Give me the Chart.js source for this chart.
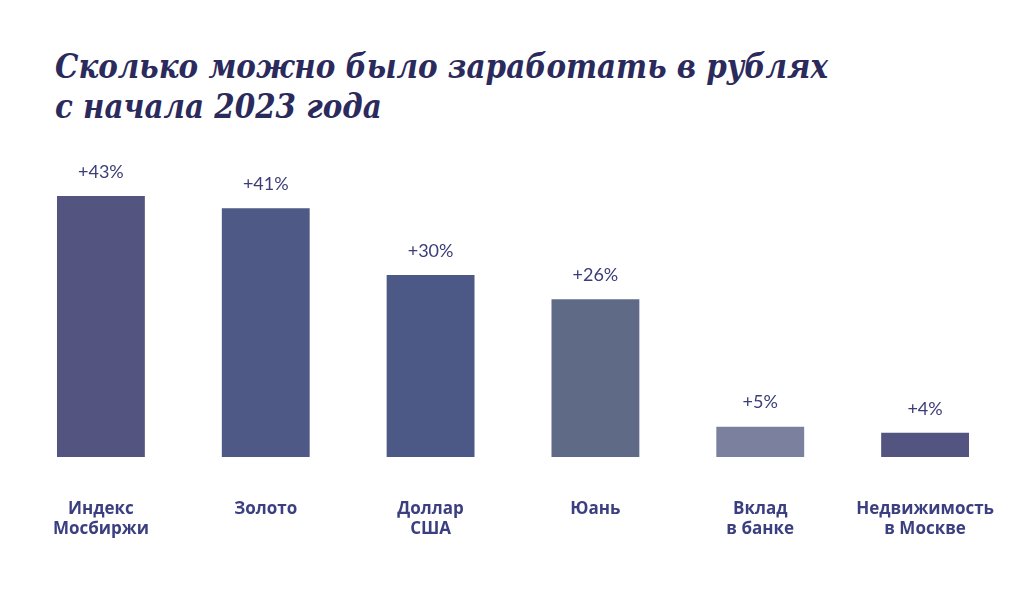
<!DOCTYPE html>
<html>
<head>
<meta charset="utf-8">
<script src="https://cdn.jsdelivr.net/npm/chart.js@4.4.0/dist/chart.umd.min.js"></script>
<style>
  html, body { margin: 0; padding: 0; background: #fff; }
  #wrap { position: relative; width: 1024px; height: 595px; }
  #title {
    position: absolute; left: 55px; top: 46px; margin: 0; white-space: nowrap;
    font-family: "DejaVu Serif Condensed", "DejaVu Serif", serif; font-style: italic; font-weight: bold;
    font-size: 34px; line-height: 40px; color: #2b2a5c;
    transform: scaleX(0.96); transform-origin: left top;
  }
  canvas { position: absolute; left: 0; top: 0; }
</style>
</head>
<body>
<div id="wrap">
  <h1 id="title">Сколько можно было заработать в рублях<br>с начала 2023 года</h1>
  <canvas id="returnsChart" width="1024" height="595"></canvas>
</div>
<script>
// Доходность активов с начала 2023 года, %
const categories = [['Индекс', 'Мосбиржи'], 'Золото', ['Доллар', 'США'], 'Юань', ['Вклад', 'в банке'], ['Недвижимость', 'в Москве']];
const returns = [43, 41, 30, 26, 5, 4];
const barColors = ['#535480', '#4e5985', '#4c5886', '#5f6b86', '#7b809f', '#535580'];

// подписи значений над столбцами
const valueLabels = {
  id: 'valueLabels',
  afterDatasetsDraw(chart) {
    const ctx = chart.ctx;
    const meta = chart.getDatasetMeta(0);
    ctx.save();
    ctx.font = '18px Lato';
    ctx.fillStyle = '#3b3d78';
    ctx.textAlign = 'center';
    ctx.textBaseline = 'middle';
    meta.data.forEach((bar, i) => {
      ctx.fillText('+' + returns[i] + '%', bar.x, bar.y - 24);
    });
    ctx.restore();
  }
};

const ctx = document.getElementById('returnsChart').getContext('2d');
new Chart(ctx, {
  type: 'bar',
  data: {
    labels: categories,
    datasets: [{
      data: returns,
      backgroundColor: barColors,
      barPercentage: 0.533,
      categoryPercentage: 1,
    }]
  },
  options: {
    responsive: false,
    animation: false,
    layout: { padding: { top: 153.5, left: 18.5, right: 16.5, bottom: 0 } },
    plugins: {
      legend: { display: false },
      tooltip: { enabled: false }
    },
    scales: {
      y: { display: false, min: 0, max: 50 },
      x: {
        grid: { display: false },
        border: { display: false },
        afterFit(scale) {
          scale.height = 138;
          scale.paddingLeft = 0;
          scale.paddingRight = 0;
        },
        ticks: {
          padding: 34,
          color: '#3b3f80',
          font: { family: 'Open Sans', weight: 'bold', size: 17, lineHeight: 1.18 },
          maxRotation: 0,
          autoSkip: false
        }
      }
    }
  },
  plugins: [valueLabels]
});
</script>
</body>
</html>
